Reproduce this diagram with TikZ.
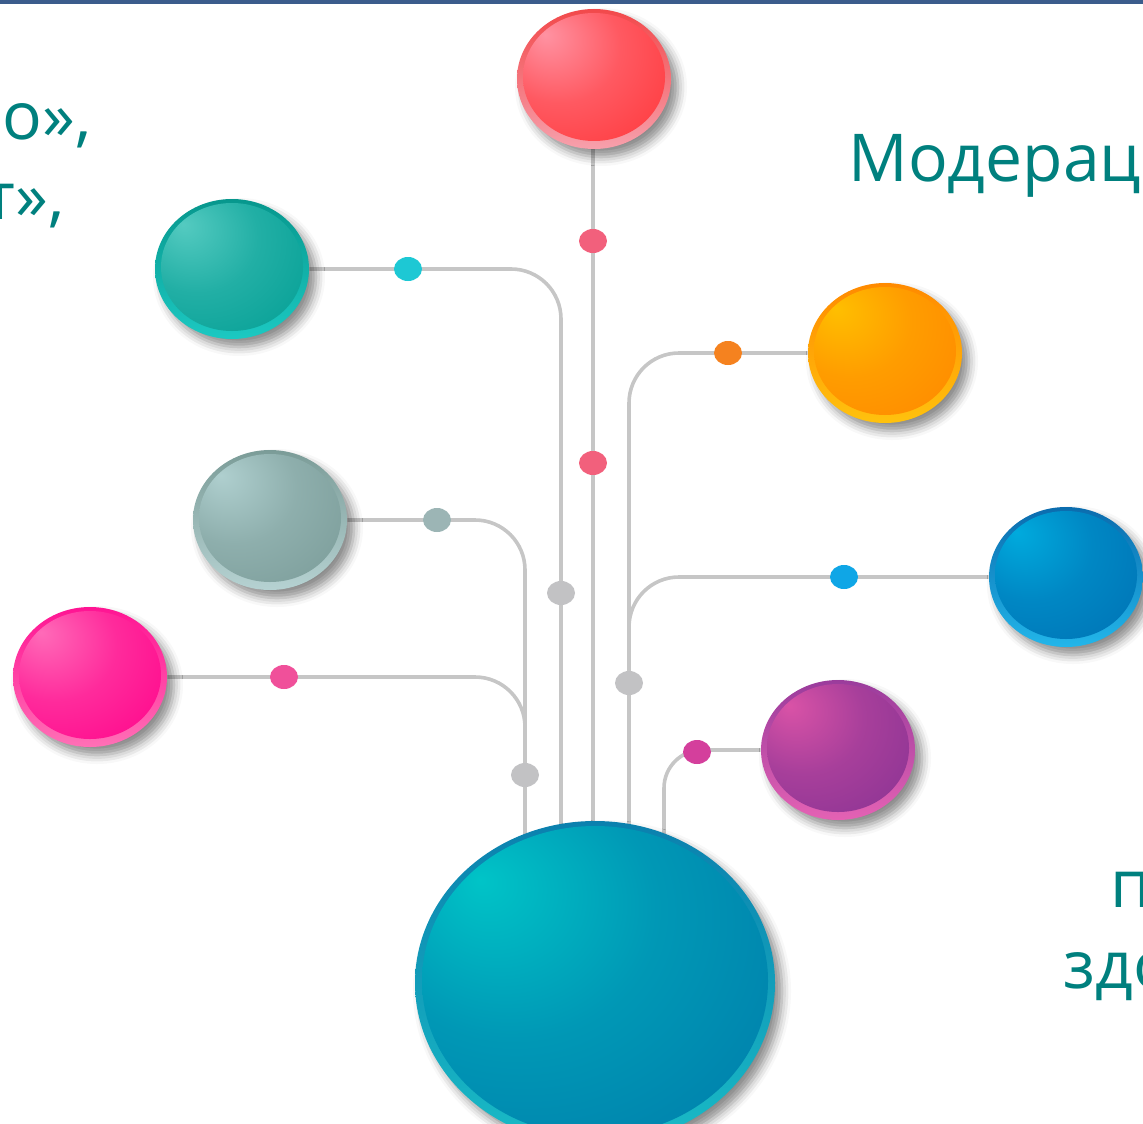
\documentclass[tikz,border=0pt]{standalone}
\usepackage{fontspec}
\setmainfont{Open Sans}
\usetikzlibrary{shapes.geometric,shadows.blur,backgrounds}

\definecolor{topbar}{HTML}{3B5C8C}
\definecolor{wiregray}{HTML}{C6C6C6}
\definecolor{beadgray}{HTML}{C2C2C4}
\definecolor{labelteal}{HTML}{00807E}
% ball colours: highlight, body, rim top, rim bottom
\definecolor{redhi}{HTML}{FFA2B4}\definecolor{redlo}{HTML}{FF3A3E}\definecolor{redrt}{HTML}{F2494B}\definecolor{redrb}{HTML}{F7A0AC}
\definecolor{tealhi}{HTML}{62D2C8}\definecolor{teallo}{HTML}{06A096}\definecolor{tealrt}{HTML}{07978D}\definecolor{tealrb}{HTML}{1CC9C2}
\definecolor{orangehi}{HTML}{FFC800}\definecolor{orangelo}{HTML}{FF8A00}\definecolor{orangert}{HTML}{FF8A00}\definecolor{orangerb}{HTML}{FFC20E}
\definecolor{sagehi}{HTML}{B8D8D8}\definecolor{sagelo}{HTML}{7C9D9A}\definecolor{sagert}{HTML}{7B9C98}\definecolor{sagerb}{HTML}{B6D2D2}
\definecolor{bluehi}{HTML}{00B4E4}\definecolor{bluelo}{HTML}{0074B6}\definecolor{bluert}{HTML}{0B6CAE}\definecolor{bluerb}{HTML}{22B6EA}
\definecolor{pinkhi}{HTML}{FF7CC0}\definecolor{pinklo}{HTML}{FF088C}\definecolor{pinkrt}{HTML}{FF1493}\definecolor{pinkrb}{HTML}{FF70B6}
\definecolor{purplehi}{HTML}{E758AA}\definecolor{purplelo}{HTML}{8C3494}\definecolor{purplert}{HTML}{9A3C9C}\definecolor{purplerb}{HTML}{E462B4}
\definecolor{hubhi}{HTML}{00D0CC}\definecolor{hublo}{HTML}{0080AC}\definecolor{hubrt}{HTML}{0B80AE}\definecolor{hubrb}{HTML}{19BBC6}
% dots
\definecolor{reddot}{HTML}{F2607C}
\definecolor{tealdot}{HTML}{1DC8D4}
\definecolor{orangedot}{HTML}{F5821F}
\definecolor{sagedot}{HTML}{9CB5B5}
\definecolor{bluedot}{HTML}{0FA6E6}
\definecolor{pinkdot}{HTML}{F0509A}
\definecolor{purpledot}{HTML}{D43F9C}

\colorlet{orbhi}{white}
\colorlet{orblo}{black}
\pgfdeclareradialshading[orbhi,orblo]{orb}{\pgfpoint{-16bp}{16bp}}{%
color(0bp)=(orbhi!85!orblo); color(20bp)=(orbhi!30!orblo); color(40bp)=(orblo); color(70bp)=(orblo!88!black)}

\begin{document}
\begin{tikzpicture}[x=0.5pt,y=-0.5pt,
orb rx/.initial=35.5pt,
orb ry/.initial=32pt,
orb/.style n args={4}{
% The shape:
ellipse,
inner sep=0pt,
minimum width=77pt,
minimum height=70pt,
% rim and body:
top color=#3,
bottom color=#4,
blur shadow={shadow xshift=3.5pt,shadow yshift=-4pt,shadow blur radius=4.5pt,shadow opacity=45},
path picture={\colorlet{orbhi}{#1}\colorlet{orblo}{#2}
\shade[shading=orb] ([yshift=1pt]path picture bounding box.center) ellipse [x radius=\pgfkeysvalueof{/tikz/orb rx},y radius=\pgfkeysvalueof{/tikz/orb ry}];}
},
bead/.style={
ellipse,
inner sep=0pt,
minimum width=14pt,
minimum height=12pt,
fill=#1
},
wire/.style={draw=wiregray,line width=1.8pt,rounded corners=25pt},
label/.style={text=labelteal,inner sep=0pt,font=\fontsize{33}{40}\selectfont}
]
\useasboundingbox (0,0) rectangle (1143,1123);
\clip (0,0) rectangle (1143,1123);
\fill[topbar] (0,0) rectangle (1143,4);

% balls
\node (red) [orb={redhi}{redlo}{redrt}{redrb}] at (594,79) {};
\node (teal) [orb={tealhi}{teallo}{tealrt}{tealrb}] at (232,269) {};
\node (orange) [orb={orangehi}{orangelo}{orangert}{orangerb}] at (885,353) {};
\node (sage) [orb={sagehi}{sagelo}{sagert}{sagerb}] at (270,520) {};
\node (blue) [orb={bluehi}{bluelo}{bluert}{bluerb}] at (1066,577) {};
\node (pink) [orb={pinkhi}{pinklo}{pinkrt}{pinkrb}] at (90,677) {};
\node (purple) [orb={purplehi}{purplelo}{purplert}{purplerb}] at (838,750) {};
\node (hub) [orb={hubhi}{hublo}{hubrt}{hubrb},minimum width=180pt,minimum height=162pt,orb rx=86.5pt,orb ry=77.5pt] at (595,983) {};

% feet of the wires (hidden by the hub)
\coordinate (f1) at (525,900);
\coordinate (f2) at (561,900);
\coordinate (f3) at (593,900);
\coordinate (f4) at (629,900);
\coordinate (f5) at (664,900);

% beads
\node (r1) [bead=reddot] at (593,241) {};
\node (r2) [bead=reddot] at (593,463) {};
\node (t1) [bead=tealdot] at (408,269) {};
\node (o1) [bead=orangedot] at (728,353) {};
\node (s1) [bead=sagedot] at (437,520) {};
\node (b1) [bead=bluedot] at (844,577) {};
\node (p1) [bead=pinkdot] at (284,677) {};
\node (u1) [bead=purpledot] at (697,752) {};
\node (g1) [bead=beadgray] at (561,593) {};
\node (g2) [bead=beadgray] at (629,683) {};
\node (g3) [bead=beadgray] at (525,775) {};

\begin{scope}[on background layer]
\draw[wire] (593,79) -- (f3);
\draw[wire] (teal) -| (f2);
\draw[wire] (sage) -| (f1);
\draw[wire] (pink) -| (f1);
\draw[wire] (orange) -| (f4);
\draw[wire] (blue) -| (f4);
\draw[wire,rounded corners=19pt] (purple) -| (f5);
\end{scope}

% texts
\node (lt1) [label,anchor=base east] at (92,140) {о»,};
\node (lt2) [label,anchor=base east] at (65,220) {т»,};
\node (rt1) [label,anchor=base west] at (848,182) {Модерац};
\node (rb1) [label,anchor=base west] at (1110,907) {п};
\node (rb2) [label,anchor=base west] at (1063,988) {здо};
\end{tikzpicture}
\end{document}
